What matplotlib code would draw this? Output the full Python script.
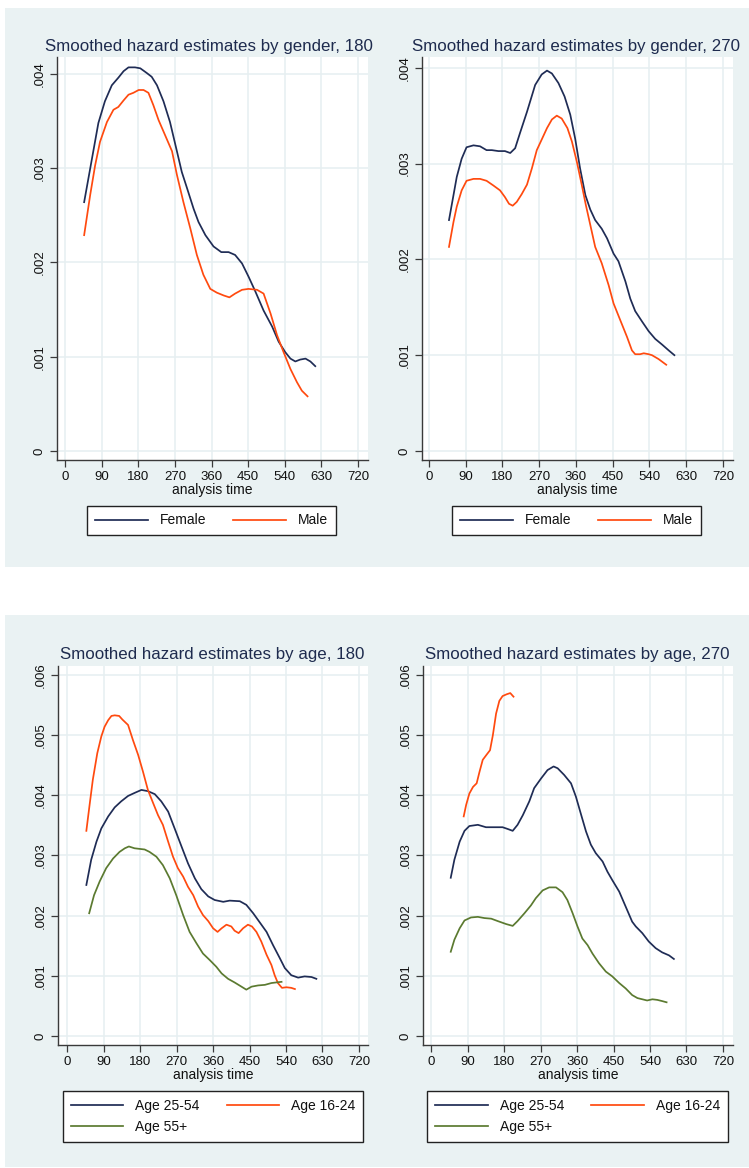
import matplotlib
matplotlib.use("Agg")
import matplotlib.pyplot as plt
from matplotlib.patches import Rectangle

plt.rcParams['font.family'] = ['Liberation Sans', 'DejaVu Sans']

# ---------------- data (hazard values in units of 1e-3) ----------------
g180_female_t = [47,62,82,98,115,131,144,156,172,185,201,213,226,242,258,275,287,299,316,328,
                 345,365,384,402,418,435,451,468,488,509,525,541,554,566,578,591,603,615]
g180_female_h = [2.64,3.00,3.48,3.71,3.88,3.96,4.03,4.07,4.07,4.06,4.01,3.97,3.88,3.71,3.49,3.18,2.96,2.80,2.57,2.43,
                 2.29,2.17,2.11,2.11,2.08,1.99,1.85,1.69,1.49,1.32,1.16,1.05,0.98,0.95,0.97,0.98,0.95,0.90]
g180_male_t = [47,62,74,86,103,119,131,144,156,168,181,193,205,217,230,246,263,275,291,308,
               324,340,357,373,390,404,418,435,451,472,488,505,521,537,554,570,582,596]
g180_male_h = [2.29,2.72,3.03,3.28,3.49,3.62,3.65,3.72,3.78,3.80,3.83,3.83,3.80,3.67,3.51,3.35,3.18,2.93,2.64,2.36,
               2.08,1.87,1.72,1.68,1.65,1.63,1.67,1.71,1.72,1.71,1.67,1.46,1.23,1.05,0.87,0.73,0.64,0.58]

g270_female_t = [49,60,68,80,92,109,125,141,154,170,186,199,211,223,240,260,276,289,301,317,
                 332,346,358,370,383,395,407,423,436,452,464,481,493,505,522,538,554,571,587,601]
g270_female_h = [2.41,2.67,2.86,3.05,3.17,3.19,3.18,3.14,3.14,3.13,3.13,3.11,3.16,3.32,3.54,3.82,3.93,3.97,3.94,3.84,
                 3.70,3.51,3.26,2.95,2.67,2.52,2.41,2.32,2.22,2.06,1.98,1.77,1.59,1.46,1.35,1.25,1.17,1.11,1.05,1.00]
g270_male_t = [49,60,68,80,92,109,125,141,158,174,186,196,205,215,227,240,252,264,276,289,
               301,313,325,339,350,362,374,384,395,407,423,440,452,468,485,497,505,517,526,538,546,562,581]
g270_male_h = [2.13,2.39,2.55,2.72,2.82,2.84,2.84,2.82,2.77,2.72,2.65,2.58,2.56,2.60,2.68,2.78,2.95,3.14,3.25,3.37,
               3.46,3.50,3.47,3.37,3.23,3.02,2.78,2.57,2.36,2.13,1.96,1.73,1.54,1.37,1.19,1.05,1.01,1.01,1.02,1.01,1.00,0.96,0.90]

a180_mid_t = [47,59,72,84,101,117,133,150,166,183,199,216,232,249,265,282,298,315,331,348,
              364,385,401,426,442,459,475,492,508,525,537,553,570,586,603,615]
a180_mid_h = [2.51,2.93,3.23,3.45,3.65,3.80,3.90,3.99,4.04,4.09,4.07,4.02,3.90,3.73,3.45,3.15,2.87,2.62,2.44,2.32,
              2.26,2.23,2.25,2.24,2.18,2.04,1.89,1.73,1.51,1.29,1.13,1.01,0.97,0.99,0.98,0.95]
a180_young_t = [47,55,63,74,84,92,101,109,117,128,136,150,162,175,187,199,212,224,236,249,
                261,273,286,298,311,323,335,348,360,371,381,393,405,413,423,434,446,456,467,479,
                492,504,512,520,530,541,553,562]
a180_young_h = [3.41,3.84,4.26,4.70,4.98,5.14,5.25,5.32,5.33,5.32,5.26,5.17,4.92,4.67,4.39,4.09,3.87,3.67,3.51,3.23,
                2.98,2.79,2.65,2.48,2.34,2.15,2.01,1.91,1.79,1.73,1.79,1.85,1.82,1.75,1.71,1.79,1.85,1.82,1.73,1.57,
                1.35,1.18,1.01,0.88,0.80,0.81,0.80,0.78]
a180_old_t = [54,66,80,96,113,129,142,152,166,191,203,220,236,253,269,286,302,319,335,352,
              368,381,397,413,430,442,455,471,488,504,516,529]
a180_old_h = [2.04,2.34,2.57,2.79,2.95,3.06,3.12,3.15,3.12,3.10,3.06,2.98,2.84,2.62,2.34,2.01,1.73,1.54,1.37,1.26,
              1.15,1.04,0.95,0.89,0.82,0.77,0.82,0.84,0.85,0.88,0.89,0.90]

a270_mid_t = [48,57,70,82,94,115,135,156,176,189,201,213,226,242,254,271,287,302,312,328,
              345,357,369,382,394,406,423,435,447,464,480,496,505,521,537,554,570,587,599]
a270_mid_h = [2.63,2.93,3.23,3.41,3.49,3.51,3.47,3.47,3.47,3.44,3.41,3.51,3.67,3.90,4.12,4.28,4.42,4.48,4.45,4.34,
              4.20,3.98,3.70,3.40,3.18,3.04,2.90,2.73,2.59,2.40,2.15,1.90,1.82,1.71,1.57,1.46,1.39,1.34,1.28]
a270_young_t = [80,86,94,103,112,119,127,137,145,152,160,168,176,186,195,203]
a270_young_h = [3.65,3.84,4.03,4.14,4.20,4.39,4.59,4.68,4.75,5.00,5.36,5.57,5.65,5.68,5.70,5.64]
a270_old_t = [48,57,70,82,98,115,131,148,164,185,201,213,230,246,258,275,291,308,324,336,
              349,361,373,386,398,414,431,447,464,480,496,509,521,533,546,558,570,581]
a270_old_h = [1.40,1.60,1.79,1.92,1.97,1.98,1.96,1.95,1.91,1.86,1.83,1.91,2.04,2.17,2.29,2.42,2.47,2.47,2.39,2.26,
              2.04,1.82,1.62,1.51,1.37,1.21,1.07,0.99,0.88,0.79,0.68,0.63,0.61,0.59,0.61,0.60,0.58,0.56]

x_ticks = [0, 90, 180, 270, 360, 450, 540, 630, 720]
gender_yticks = [0, 0.001, 0.002, 0.003, 0.004]
gender_ylabels = ["0", ".001", ".002", ".003", ".004"]
age_yticks = [0, 0.001, 0.002, 0.003, 0.004, 0.005, 0.006]
age_ylabels = ["0", ".001", ".002", ".003", ".004", ".005", ".006"]

titles = ["Smoothed hazard estimates by gender, 180", "Smoothed hazard estimates by gender, 270",
          "Smoothed hazard estimates by age, 180", "Smoothed hazard estimates by age, 270"]
gender_labels = ["Female", "Male"]
age_labels = ["Age 25-54", "Age 16-24", "Age 55+"]

# ---------------- styling ----------------
W, H = 749, 1168
NAVY = '#1f2c55'
ORANGE = '#ff4a0f'
GREEN = '#5b7a30'
BG = '#eaf2f3'
GRID = '#e6eff1'
TITLE_C = '#1e2b4e'
AX_C = '#3a3a3a'

fig = plt.figure(figsize=(W / 100, H / 100), dpi=100)
fig.patch.set_facecolor('white')


def fx(px):
    return px / W


def fy(py):
    return 1 - py / H


def rect_px(l, t, r, b):
    return [fx(l), fy(b), fx(r) - fx(l), fy(t) - fy(b)]


# panel backgrounds
for (l, t, r, b) in [(5, 8, 749, 567), (5, 615, 749, 1167)]:
    fig.patches.append(Rectangle((fx(l), fy(b)), fx(r) - fx(l), fy(t) - fy(b),
                                 transform=fig.transFigure, facecolor=BG, edgecolor='none', zorder=-10))


def make_ax(box, xlim, ylim, yticks, ylabels, title, title_xy):
    ax = fig.add_axes(rect_px(*box))
    ax.set_zorder(1)
    ax.set_facecolor('white')
    ax.set_xlim(*xlim)
    ax.set_ylim(*ylim)
    ax.set_xticks(x_ticks)
    ax.set_xticklabels([str(v) for v in x_ticks])
    ax.set_yticks(yticks)
    ax.set_yticklabels(ylabels)
    ax.grid(True, color=GRID, linewidth=1.1)
    ax.set_axisbelow(True)
    for s in ['top', 'right']:
        ax.spines[s].set_visible(False)
    for s in ['left', 'bottom']:
        ax.spines[s].set_color(AX_C)
        ax.spines[s].set_linewidth(1.0)
    ax.tick_params(axis='both', colors=AX_C, labelcolor='#111111', labelsize=9.5, length=5, width=0.9, pad=3)
    ax.tick_params(axis='y', labelrotation=90)
    for lab in ax.get_yticklabels():
        lab.set_va('center')
    ax.set_xlabel("analysis time", fontsize=10, color='#111111', labelpad=0)
    fig.text(fx(title_xy[0]), fy(title_xy[1]), title, ha='center', va='center',
             fontsize=12.2, color=TITLE_C)
    return ax


lw = 1.25

# top-left
ax1 = make_ax((57, 57, 368, 460), (-19.7, 744.6), (-0.0000955, 0.00418), gender_yticks, gender_ylabels, titles[0], (209, 46))
ax1.plot(g180_female_t, [v * 1e-3 for v in g180_female_h], color=NAVY, lw=lw, label=gender_labels[0])
ax1.plot(g180_male_t, [v * 1e-3 for v in g180_male_h], color=ORANGE, lw=lw, label=gender_labels[1])

# top-right
ax2 = make_ax((422, 57, 733, 460), (-17.1, 744.5), (-0.000094, 0.004112), gender_yticks, gender_ylabels, titles[1], (576, 46))
ax2.plot(g270_female_t, [v * 1e-3 for v in g270_female_h], color=NAVY, lw=lw, label=gender_labels[0])
ax2.plot(g270_male_t, [v * 1e-3 for v in g270_male_h], color=ORANGE, lw=lw, label=gender_labels[1])

# bottom-left
ax3 = make_ax((58, 666, 368, 1045), (-23, 742.5), (-0.00015, 0.00615), age_yticks, age_ylabels, titles[2], (212.5, 654))
ax3.plot(a180_mid_t, [v * 1e-3 for v in a180_mid_h], color=NAVY, lw=lw, label=age_labels[0])
ax3.plot(a180_young_t, [v * 1e-3 for v in a180_young_h], color=ORANGE, lw=lw, label=age_labels[1])
ax3.plot(a180_old_t, [v * 1e-3 for v in a180_old_h], color=GREEN, lw=lw, label=age_labels[2])

# bottom-right
ax4 = make_ax((423, 666, 733, 1045), (-20.5, 745), (-0.00015, 0.00615), age_yticks, age_ylabels, titles[3], (577.5, 654))
ax4.plot(a270_mid_t, [v * 1e-3 for v in a270_mid_h], color=NAVY, lw=lw, label=age_labels[0])
ax4.plot(a270_young_t, [v * 1e-3 for v in a270_young_h], color=ORANGE, lw=lw, label=age_labels[1])
ax4.plot(a270_old_t, [v * 1e-3 for v in a270_old_h], color=GREEN, lw=lw, label=age_labels[2])


def add_legend(ax, box, order):
    l, t, r, b = box
    handles, labels = ax.get_legend_handles_labels()
    h = [handles[i] for i in order]
    lb = [labels[i] for i in order]
    leg = fig.legend(h, lb, loc='center', ncol=2,
                     bbox_to_anchor=(fx((l + r) / 2), fy((t + b) / 2)),
                     bbox_transform=fig.transFigure, frameon=True, fancybox=False,
                     edgecolor='#222222', framealpha=1, fontsize=10, handlelength=3.8,
                     handletextpad=0.85, borderpad=0.55, labelspacing=0.55, columnspacing=1.95)
    leg.get_frame().set_linewidth(1.0)
    leg.set_zorder(2)
    for txt in leg.get_texts():
        txt.set_color('#111111')
    return leg


add_legend(ax1, (87, 507, 336, 534), [0, 1])
add_legend(ax2, (452, 507, 701, 534), [0, 1])
add_legend(ax3, (63, 1092, 363, 1141), [0, 2, 1])
add_legend(ax4, (428, 1092, 727, 1141), [0, 2, 1])

fig.savefig("out.png", dpi=100, facecolor='white')
